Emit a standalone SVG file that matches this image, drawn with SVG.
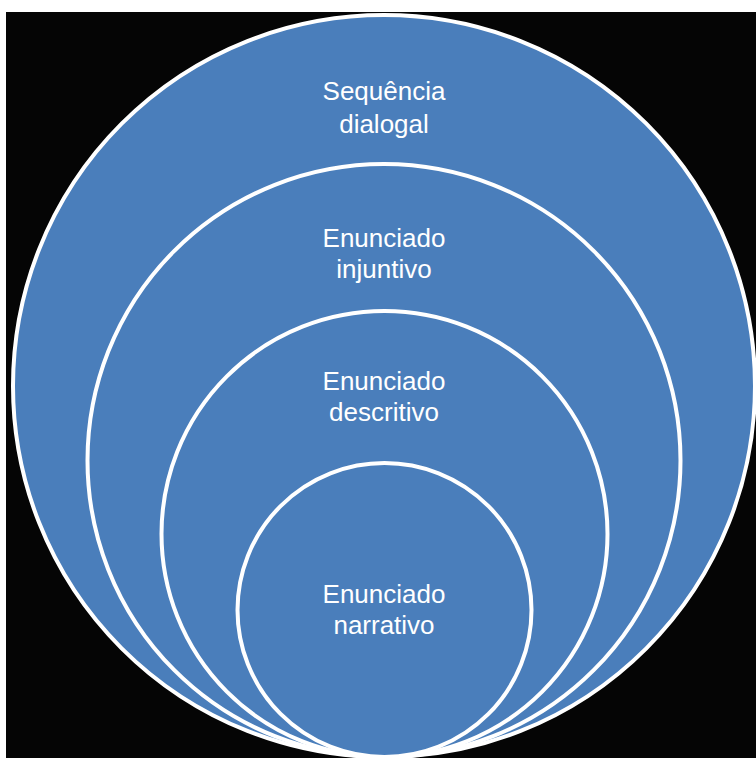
<svg xmlns="http://www.w3.org/2000/svg" width="756" height="758" viewBox="0 0 756 758">
<style>
.c{fill:#4A7EBB;stroke:#FFFFFF;stroke-width:4}
.t{font-family:"Liberation Sans",Arial,sans-serif;font-size:26px;fill:#FFFFFF;text-anchor:middle}
</style>
<rect x="0" y="0" width="756" height="758" fill="#FFFFFF"/>
<rect x="6" y="12" width="750" height="746" fill="#050505"/>
<g id="sequencia-dialogal">
<circle class="c" cx="384" cy="386" r="371"/>
<text class="t" x="384" y="100">Sequência</text>
<text class="t" x="384" y="133">dialogal</text>
</g>
<g id="enunciado-injuntivo">
<circle class="c" cx="384" cy="460.5" r="296.5"/>
<text class="t" x="384" y="247">Enunciado</text>
<text class="t" x="384" y="278">injuntivo</text>
</g>
<g id="enunciado-descritivo">
<circle class="c" cx="384.5" cy="534" r="223"/>
<text class="t" x="384" y="390">Enunciado</text>
<text class="t" x="384" y="421">descritivo</text>
</g>
<g id="enunciado-narrativo">
<circle class="c" cx="384.5" cy="610" r="147"/>
<text class="t" x="384" y="603">Enunciado</text>
<text class="t" x="384" y="634">narrativo</text>
</g>
<g id="connectors"/>
</svg>
